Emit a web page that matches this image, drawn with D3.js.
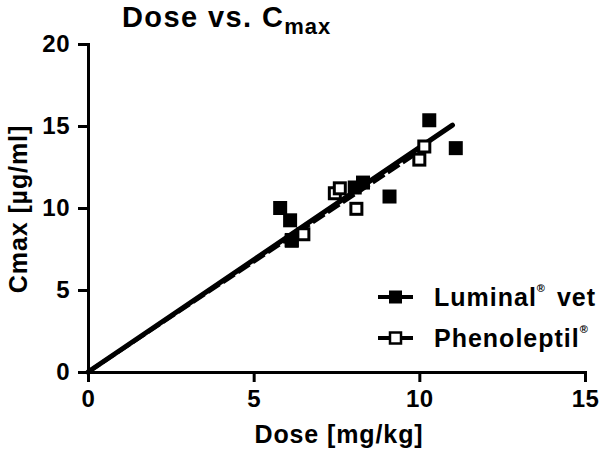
<!DOCTYPE html>
<html>
<head>
<meta charset="utf-8">
<script src="https://cdn.jsdelivr.net/npm/d3@7"></script>
<style>
  html, body { margin: 0; padding: 0; background: #fff; }
  svg { display: block; }
  text { font-family: "Liberation Sans", Arial, Helvetica, sans-serif; font-weight: bold; fill: #000; }
</style>
</head>
<body>
<svg id="chart" width="600" height="451"></svg>
<script>
// ---- data ----
const luminalDose = [5.8, 6.1, 6.15, 8.05, 8.3, 9.1, 10.3, 11.1];
const luminalCmax = [10.0, 9.25, 8.05, 11.25, 11.55, 10.7, 15.35, 13.65];
const phenoDose = [6.15, 6.5, 7.45, 7.6, 8.1, 10.0, 10.15];
const phenoCmax = [8.0, 8.4, 10.9, 11.2, 9.95, 12.95, 13.75];
const luminalFitX = [0, 11.0];
const luminalFitY = [0, 15.05];
const phenoFitX = [0, 10.15];
const phenoFitY = [0, 13.65];
const xTicks = [0, 5, 10, 15];
const yTicks = [0, 5, 10, 15, 20];
const titleMain = "Dose vs. C";
const titleSub = "max";
const xLabel = "Dose [mg/kg]";
const yLabel = "Cmax [µg/ml]";
const legendNames = ["Luminal", "Phenoleptil"];

const svg = d3.select("#chart");
const x = d3.scaleLinear().domain([0, 15]).range([88, 585]);
const y = d3.scaleLinear().domain([0, 20]).range([372, 44]);

// axes
const xAxis = svg.append("g").attr("transform", `translate(0,${y(0)})`)
  .call(d3.axisBottom(x).tickValues(xTicks).tickSize(10).tickPadding(8).tickSizeOuter(0));
const yAxis = svg.append("g").attr("transform", `translate(${x(0)},0)`)
  .call(d3.axisLeft(y).tickValues(yTicks).tickSize(10).tickPadding(8).tickSizeOuter(0));
[xAxis, yAxis].forEach(a => {
  a.select(".domain").attr("stroke", "#000").attr("stroke-width", 3).attr("stroke-linecap", "square");
  a.selectAll(".tick line").attr("stroke", "#000").attr("stroke-width", 3);
  a.selectAll(".tick text").style("font-size", "24px").style("font-family", "'Liberation Sans', Arial, sans-serif")
    .style("font-weight", "bold").attr("fill", "#000").attr("letter-spacing", "0.5px");
});
xAxis.selectAll(".tick text").attr("dy", "0.71em");

// fit lines
const line = d3.line().x(d => x(d[0])).y(d => y(d[1]));
svg.append("path").datum(phenoFitX.map((v, i) => [v, phenoFitY[i]]))
  .attr("d", line).attr("fill", "none").attr("stroke", "#000").attr("stroke-width", 4)
  .attr("stroke-dasharray", "14,4");
svg.append("path").datum(luminalFitX.map((v, i) => [v, luminalFitY[i]]))
  .attr("d", line).attr("fill", "none").attr("stroke", "#000").attr("stroke-width", 5)
  .attr("stroke-linecap", "round");

// points
const s = 14;
svg.append("g").selectAll("rect").data(phenoDose.map((v, i) => [v, phenoCmax[i]])).join("rect")
  .attr("x", d => x(d[0]) - (s - 3) / 2).attr("y", d => y(d[1]) - (s - 3) / 2)
  .attr("width", s - 3).attr("height", s - 3)
  .attr("fill", "#fff").attr("stroke", "#000").attr("stroke-width", 3);
svg.append("g").selectAll("rect").data(luminalDose.map((v, i) => [v, luminalCmax[i]])).join("rect")
  .attr("x", d => x(d[0]) - s / 2).attr("y", d => y(d[1]) - s / 2)
  .attr("width", s).attr("height", s).attr("fill", "#000");

// title
const t = svg.append("text").attr("x", 122).attr("y", 27).style("font-size", "29px").attr("letter-spacing", "1.4px");
t.append("tspan").text(titleMain);
t.append("tspan").attr("dy", 7).style("font-size", "22px").attr("letter-spacing", "1px").text(titleSub);

// axis labels
svg.append("text").attr("x", 339).attr("y", 443).attr("text-anchor", "middle")
  .style("font-size", "25px").attr("letter-spacing", "0.9px").text(xLabel);
svg.append("text").attr("transform", "translate(27,209) rotate(-90)").attr("text-anchor", "middle")
  .style("font-size", "25px").attr("letter-spacing", "0.9px").text(yLabel);

// legend
const legRows = [297, 338];
legRows.forEach((ly, i) => {
  svg.append("line").attr("x1", 378).attr("x2", 413).attr("y1", ly).attr("y2", ly)
    .attr("stroke", "#000").attr("stroke-width", 4);
  if (i === 0) {
    svg.append("rect").attr("x", 389).attr("y", ly - 6.5).attr("width", 13).attr("height", 13).attr("fill", "#000");
  } else {
    svg.append("rect").attr("x", 390).attr("y", ly - 5.5).attr("width", 11).attr("height", 11)
      .attr("fill", "#fff").attr("stroke", "#000").attr("stroke-width", 2.5);
  }
  const lt = svg.append("text").attr("x", 434).attr("y", ly + 9).style("font-size", "25px").attr("letter-spacing", "1px");
  lt.append("tspan").text(legendNames[i]);
  lt.append("tspan").attr("dy", -14).attr("dx", 0).style("font-size", "11px").text("®");
  if (i === 0) lt.append("tspan").attr("dy", 14).attr("dx", 11).text("vet");
});
</script>
</body>
</html>
